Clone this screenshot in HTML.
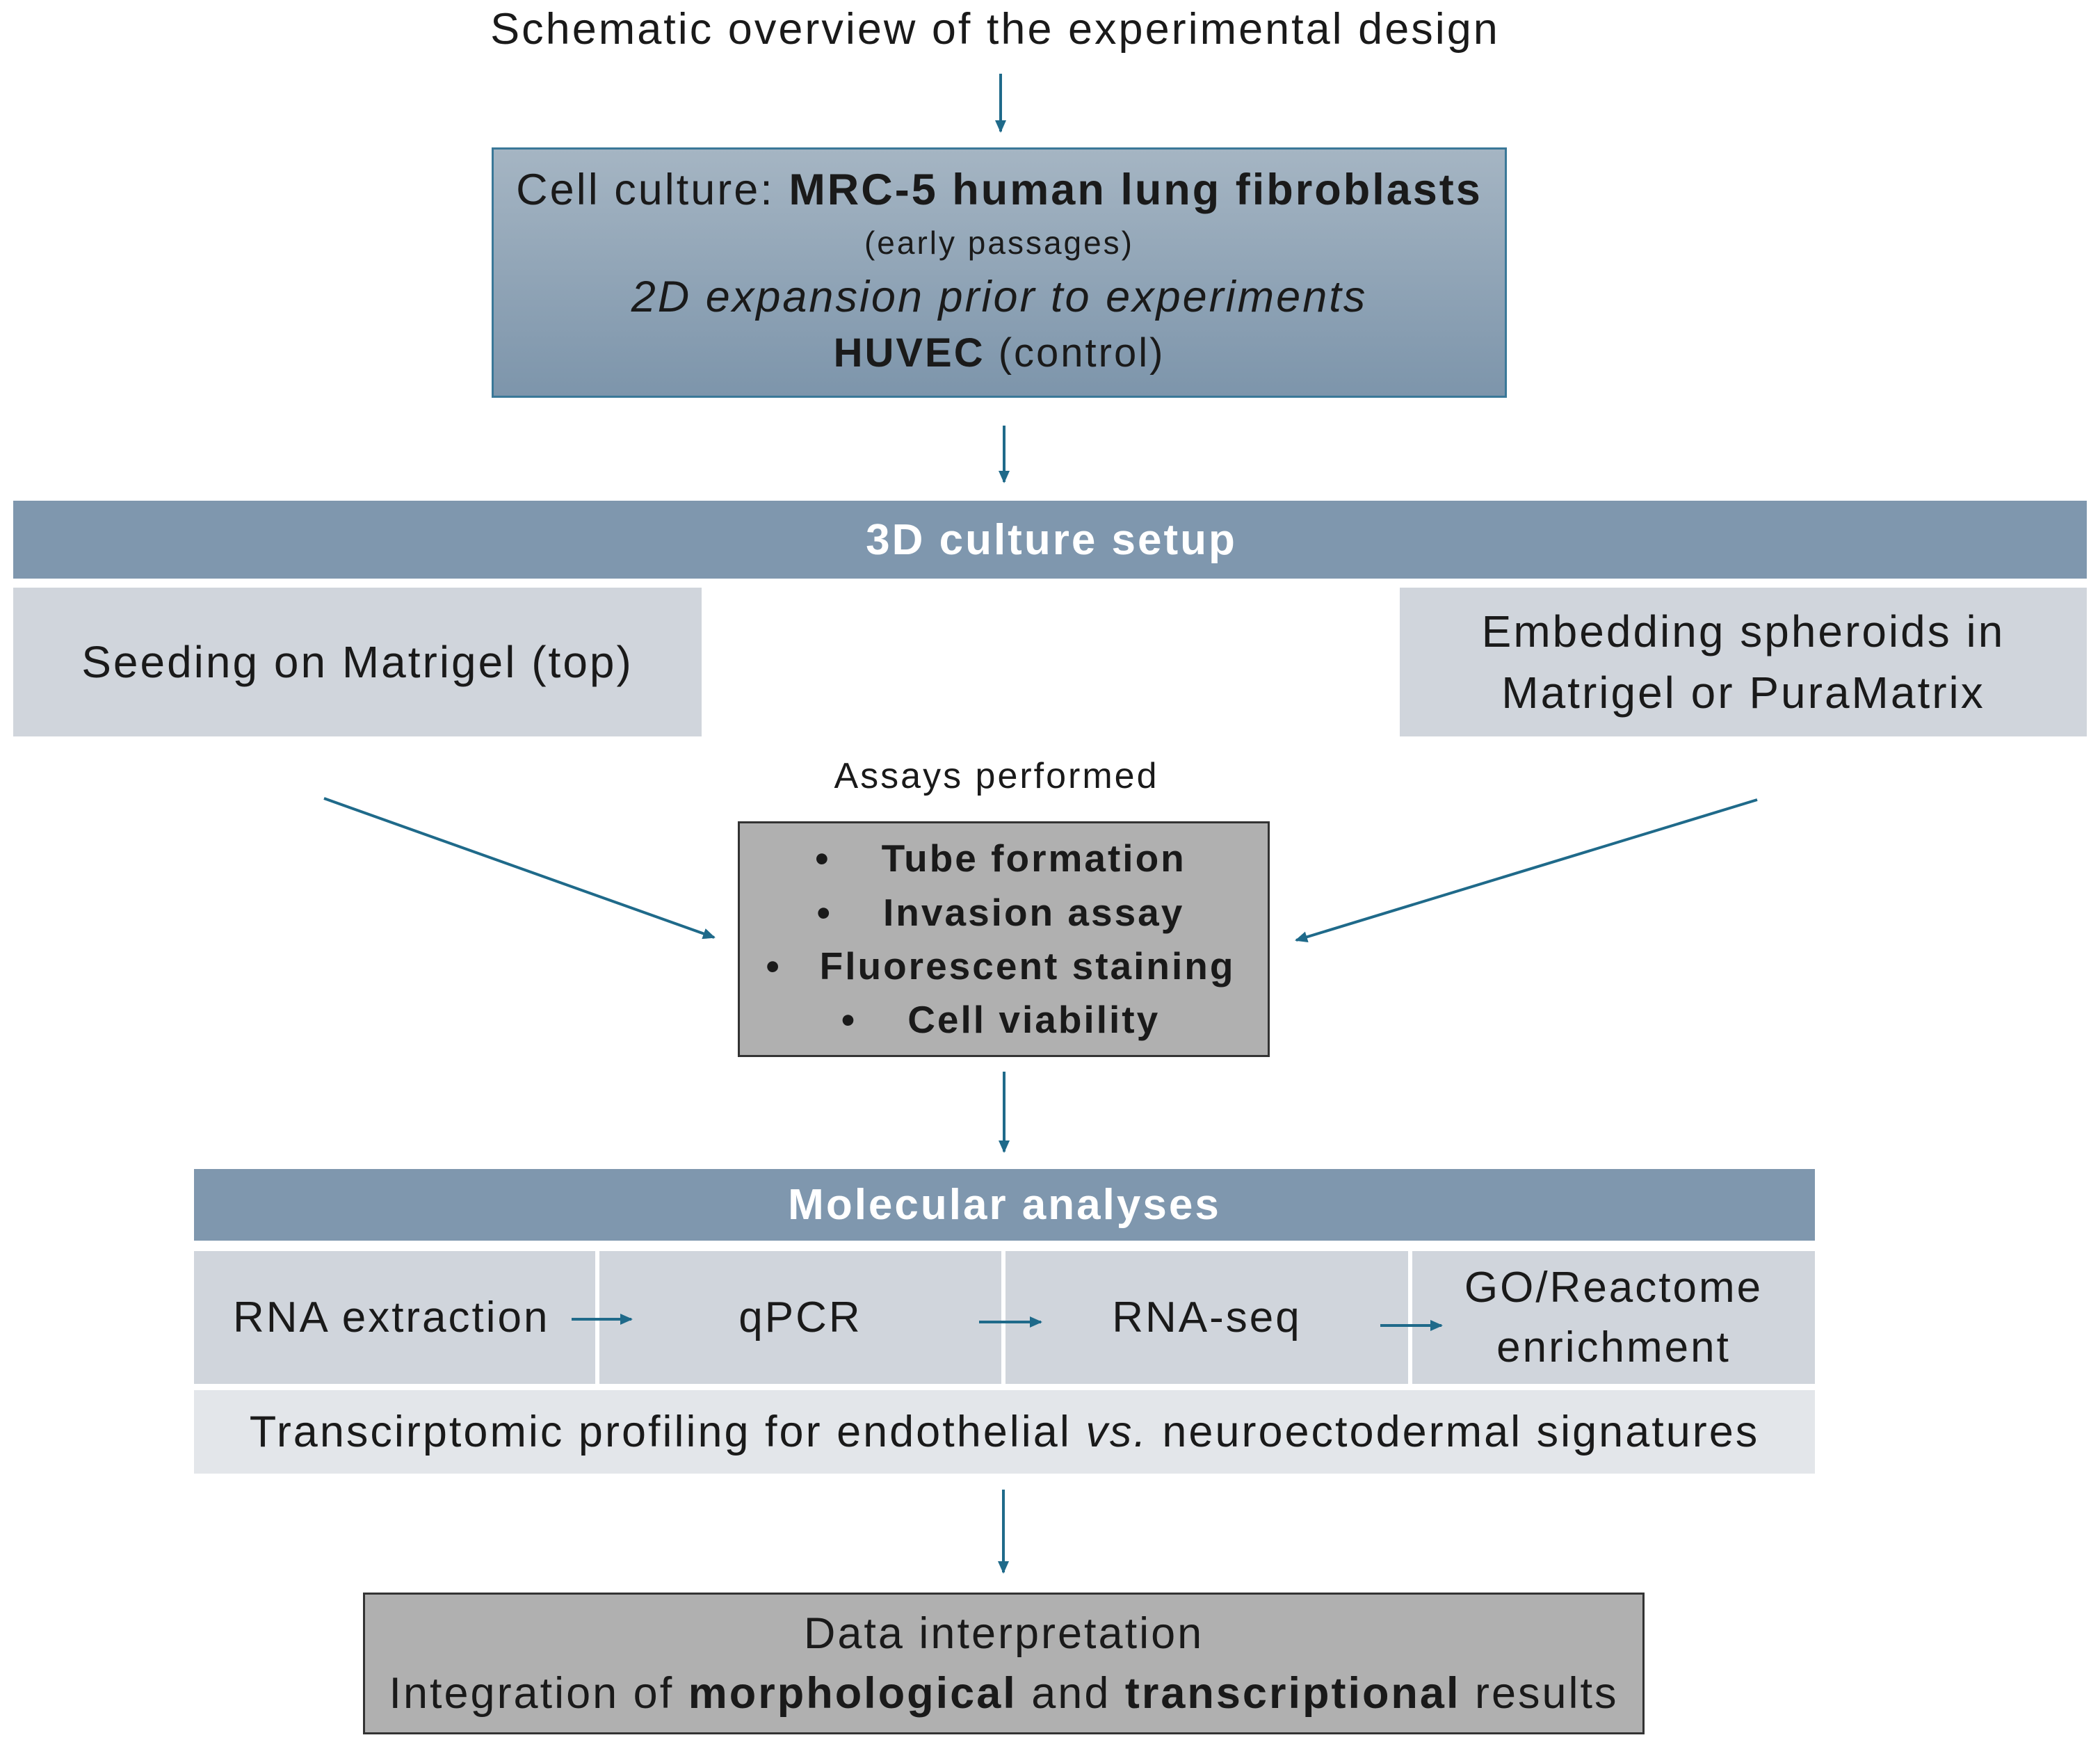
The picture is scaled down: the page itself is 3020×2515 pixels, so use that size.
<!DOCTYPE html>
<html><head><meta charset="utf-8"><style>
body{margin:0;width:3020px;height:2515px;background:#fff;font-family:"Liberation Sans",sans-serif;color:#1a1a1a;position:relative;overflow:hidden;letter-spacing:3px}
.a{position:absolute;box-sizing:border-box}
.c{display:flex;flex-direction:column;align-items:center;justify-content:center;text-align:center}
.t{position:absolute;white-space:nowrap;transform:translateX(-50%)}
</style></head><body>
<div class="t" style="left:1431px;top:6px;font-size:63px">Schematic overview of the experimental design</div>

<div class="a c" style="left:707px;top:212px;width:1460px;height:360px;background:linear-gradient(#a5b5c3,#7d95ab);border:3px solid #3a7898">
<div style="font-size:63px;line-height:76px">Cell culture: <b>MRC-5 human lung fibroblasts</b></div>
<div style="font-size:46px;line-height:76px">(early passages)</div>
<div style="font-size:63px;line-height:80px;font-style:italic">2D expansion prior to experiments</div>
<div style="font-size:58px;line-height:82px"><b>HUVEC</b> (control)</div>
</div>

<div class="a c" style="left:19px;top:720px;width:2982px;height:112px;background:#7f97ae;color:#fff;font-weight:bold;font-size:62px;padding-left:4px">3D culture setup</div>
<div class="a c" style="left:19px;top:845px;width:990px;height:214px;background:#d0d5dc;font-size:64px">Seeding on Matrigel (top)</div>
<div class="a c" style="left:2013px;top:845px;width:988px;height:214px;background:#d0d5dc;font-size:64px;line-height:88px">Embedding spheroids in<br>Matrigel or PuraMatrix</div>

<div class="t" style="left:1433px;top:1086px;font-size:52px">Assays performed</div>
<div class="a" style="left:1061px;top:1181px;width:765px;height:339px;background:#b0b0b0;border:3px solid #333;font-weight:bold;font-size:55px">
<div class="t" style="left:375px;top:18px">•&nbsp;&nbsp;&nbsp;&nbsp;Tube formation</div>
<div class="t" style="left:375px;top:96px">•&nbsp;&nbsp;&nbsp;&nbsp;Invasion assay</div>
<div class="t" style="left:375px;top:173px">•&nbsp;&nbsp;&nbsp;Fluorescent staining</div>
<div class="t" style="left:375px;top:250px">•&nbsp;&nbsp;&nbsp;&nbsp;Cell viability</div>
</div>

<div class="a c" style="left:279px;top:1681px;width:2331px;height:103px;background:#7f97ae;color:#fff;font-weight:bold;font-size:62px">Molecular analyses</div>
<div class="a c" style="left:279px;top:1799px;width:577px;height:191px;background:#d0d5dc;font-size:62px;align-items:flex-start;padding-left:56px">RNA extraction</div>
<div class="a c" style="left:862px;top:1799px;width:578px;height:191px;background:#d0d5dc;font-size:62px">qPCR</div>
<div class="a c" style="left:1446px;top:1799px;width:579px;height:191px;background:#d0d5dc;font-size:62px">RNA-seq</div>
<div class="a c" style="left:2031px;top:1799px;width:579px;height:191px;background:#d0d5dc;font-size:62px;line-height:86px">GO/Reactome<br>enrichment</div>
<div class="a c" style="left:279px;top:1999px;width:2331px;height:120px;background:#e3e6ea;font-size:63px">
<div>Transcirptomic profiling for endothelial <i>vs.</i> neuroectodermal signatures</div></div>

<div class="a c" style="left:522px;top:2290px;width:1843px;height:204px;background:#b0b0b0;border:3px solid #333;font-size:63px;line-height:86px">
<div>Data interpretation</div>
<div>Integration of <b>morphological</b> and <b>transcriptional</b> results</div></div>

<svg class="a" style="left:0;top:0" width="3020" height="2515">
<defs><marker id="h" markerWidth="18" markerHeight="16" refX="16" refY="8" orient="auto" markerUnits="userSpaceOnUse"><path d="M0,0 L18,8 L0,16 z" fill="#1f6a8a"/></marker></defs>
<g stroke="#1f6a8a" stroke-width="4" fill="none" marker-end="url(#h)">
<line x1="1439" y1="106" x2="1439" y2="189"/>
<line x1="1444" y1="612" x2="1444" y2="693"/>
<line x1="466" y1="1148" x2="1027" y2="1348"/>
<line x1="2527" y1="1150" x2="1864" y2="1352"/>
<line x1="1444" y1="1541" x2="1444" y2="1656"/>
<line x1="1443" y1="2142" x2="1443" y2="2261"/>
<line x1="822" y1="1897" x2="908" y2="1897"/>
<line x1="1408" y1="1901" x2="1497" y2="1901"/>
<line x1="1985" y1="1906" x2="2073" y2="1906"/>
</g></svg>
</body></html>
